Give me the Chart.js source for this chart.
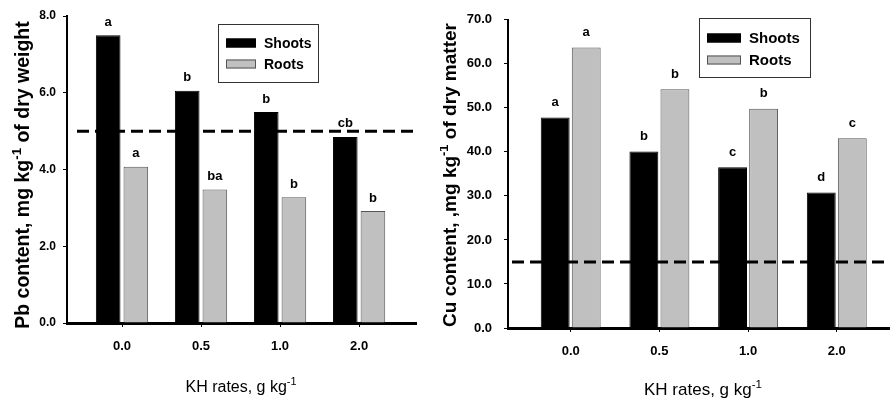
<!DOCTYPE html>
<html lang="en">

<head>
  <title>Pb and Cu content vs KH rates</title>
  <script src="https://cdn.jsdelivr.net/npm/chart.js"></script>
  <style>
    body { margin: 0; background: #fff; }
    canvas { position: absolute; top: 0; }
  </style>
</head>

<body>
  <canvas id="pbChart" width="440" height="400" style="left:0"></canvas>
  <canvas id="cuChart" width="450" height="400" style="left:440px"></canvas>
  <script>
    // values
    const rates = ['0.0', '0.5', '1.0', '2.0'];
    const seriesNames = ['Shoots', 'Roots'];

    const pbShoots = [7.5, 6.05, 5.5, 4.85];
    const pbRoots = [4.07, 3.48, 3.28, 2.92];
    const pbShootsLetters = ['a', 'b', 'b', 'cb'];
    const pbRootsLetters = ['a', 'ba', 'b', 'b'];
    const pbLimit = 5.0;
    const pbTicks = [0, 2, 4, 6, 8];

    const cuShoots = [47.8, 40.1, 36.5, 30.8];
    const cuRoots = [63.7, 54.2, 49.8, 43.1];
    const cuShootsLetters = ['a', 'b', 'c', 'd'];
    const cuRootsLetters = ['a', 'b', 'b', 'c'];
    const cuLimit = 15.0;
    const cuTicks = [0, 10, 20, 30, 40, 50, 60, 70];

    Chart.defaults.font.family = "'Liberation Sans', Arial, sans-serif";
    Chart.defaults.color = '#000';

    // text with a "-1" superscript, optionally rotated
    function drawRich(ctx, parts, x, y, size, weight, rot) {
      ctx.save();
      ctx.translate(x, y);
      ctx.rotate(rot || 0);
      ctx.textBaseline = 'alphabetic';
      ctx.textAlign = 'left';
      const fonts = parts.map(p => weight + ' ' + (p.sup ? size * 0.68 : size) + 'px ' + Chart.defaults.font.family);
      let total = 0;
      const widths = parts.map((p, i) => { ctx.font = fonts[i]; const w = ctx.measureText(p.t).width; total += w; return w; });
      let cx = -total / 2;
      parts.forEach((p, i) => {
        ctx.font = fonts[i];
        ctx.fillStyle = '#000';
        ctx.fillText(p.t, cx, p.sup ? -size * 0.42 : 0);
        cx += widths[i];
      });
      ctx.restore();
    }

    const titlesPlugin = {
      id: 'titles',
      afterDraw(chart, args, o) {
        const ctx = chart.ctx;
        drawRich(ctx, o.y.parts, o.y.x, o.y.y, o.y.size, 'bold', -Math.PI / 2);
        drawRich(ctx, o.x.parts, o.x.x, o.x.y, o.x.size, 'normal', 0);
      }
    };

    const limitPlugin = {
      id: 'limit',
      afterDatasetsDraw(chart, args, o) {
        const { ctx, chartArea } = chart;
        const y = chart.scales.y.getPixelForValue(o.value);
        ctx.save();
        ctx.strokeStyle = '#000';
        ctx.lineWidth = 3;
        ctx.setLineDash([12, 6]);
        ctx.beginPath();
        ctx.moveTo(chartArea.left + o.startGap, y);
        ctx.lineTo(chartArea.right - o.endGap, y);
        ctx.stroke();
        ctx.restore();
      }
    };

    const lettersPlugin = {
      id: 'letters',
      afterDatasetsDraw(chart, args, o) {
        const ctx = chart.ctx;
        ctx.save();
        ctx.font = 'bold ' + o.size + 'px ' + Chart.defaults.font.family;
        ctx.textAlign = 'center';
        ctx.textBaseline = 'middle';
        ctx.fillStyle = '#000';
        o.letters.forEach((arr, i) => {
          chart.getDatasetMeta(i).data.forEach((bar, j) => {
            ctx.fillText(arr[j], bar.x, bar.y - o.offset);
          });
        });
        ctx.restore();
      }
    };

    const boxLegend = {
      id: 'boxLegend',
      afterDraw(chart, args, o) {
        const ctx = chart.ctx;
        ctx.save();
        ctx.fillStyle = '#fff';
        ctx.fillRect(o.x, o.y, o.w, o.h);
        ctx.strokeStyle = '#333';
        ctx.lineWidth = 1;
        ctx.strokeRect(o.x + 0.5, o.y + 0.5, o.w, o.h);
        ctx.font = 'bold ' + o.size + 'px ' + Chart.defaults.font.family;
        ctx.textBaseline = 'middle';
        chart.data.datasets.forEach((ds, i) => {
          const cy = o.y + o.row0 + i * o.rowGap;
          ctx.fillStyle = ds.backgroundColor;
          ctx.fillRect(o.x + 8, cy - 4.5, o.sw, 9);
          ctx.strokeStyle = ds.borderColor;
          ctx.strokeRect(o.x + 8.5, cy - 4, o.sw - 1, 8);
          ctx.fillStyle = '#000';
          ctx.fillText(ds.label, o.x + o.sw + 16, cy + 1);
        });
        ctx.restore();
      }
    };

    function makeChart(id, shoots, roots, letters, yTicks, limit, geo) {
      return new Chart(document.getElementById(id), {
        type: 'bar',
        data: {
          datasets: [{
            label: seriesNames[0],
            data: shoots.map((v, i) => ({ x: i, y: v })),
            backgroundColor: '#000',
            borderColor: '#000',
            borderWidth: 1
          }, {
            label: seriesNames[1],
            data: roots.map((v, i) => ({ x: i, y: v })),
            backgroundColor: '#c0c0c0',
            borderColor: '#555',
            borderWidth: 1
          }]
        },
        plugins: [limitPlugin, lettersPlugin, boxLegend, titlesPlugin],
        options: {
          responsive: false,
          animation: false,
          devicePixelRatio: 1,
          categoryPercentage: 0.7,
          barPercentage: geo.barPct,
          layout: { padding: { left: 0, right: geo.padRight, top: geo.top, bottom: 0 } },
          scales: {
            x: {
              type: 'linear',
              offset: false,
              min: geo.xMin,
              max: geo.xMax,
              afterBuildTicks: s => { s.ticks = rates.map((r, i) => ({ value: i })); },
              afterFit: s => { s.height = 400 - geo.bottom; },
              ticks: {
                callback: v => rates[v],
                font: { size: 13, weight: 'bold' },
                padding: geo.xTickPad,
                maxRotation: 0
              },
              grid: { offset: false, drawOnChartArea: false, color: '#000', tickLength: 4 },
              border: { color: '#000', width: 3 }
            },
            y: {
              min: yTicks[0],
              max: yTicks[yTicks.length - 1],
              afterBuildTicks: s => { s.ticks = yTicks.map(v => ({ value: v })); },
              afterFit: s => { s.width = geo.left; },
              ticks: {
                callback: v => v.toFixed(1),
                font: { size: geo.yTickSize, weight: 'bold' },
                padding: geo.yTickPad
              },
              grid: { drawOnChartArea: false, color: '#000', tickLength: 4 },
              border: { color: '#000', width: 2 }
            }
          },
          plugins: {
            legend: { display: false },
            tooltip: { enabled: false },
            limit: { value: limit, startGap: geo.dashStart, endGap: geo.dashEnd },
            letters: { letters: letters, size: 13, offset: geo.letterOff },
            boxLegend: geo.legend,
            titles: geo.titles
          }
        }
      });
    }

    makeChart('pbChart', pbShoots, pbRoots, [pbShootsLetters, pbRootsLetters], pbTicks, pbLimit, {
      left: 67, padRight: 24, top: 16, bottom: 323,
      xMin: -0.696, xMax: 3.72, barPct: 0.89,
      xTickPad: 12, yTickSize: 12, yTickPad: 7,
      dashStart: 10, dashEnd: 3, letterOff: 13,
      legend: { x: 218, y: 24, w: 100, h: 58, size: 14, sw: 30, row0: 19, rowGap: 21 },
      titles: {
        y: { parts: [{ t: 'Pb content, mg kg' }, { t: '-1', sup: true }, { t: ' of dry weight' }], x: 29, y: 175, size: 19.5 },
        x: { parts: [{ t: 'KH rates, g kg' }, { t: '-1', sup: true }], x: 241, y: 392, size: 16 }
      }
    });

    makeChart('cuChart', cuShoots, cuRoots, [cuShootsLetters, cuRootsLetters], cuTicks, cuLimit, {
      left: 68, padRight: 0, top: 19, bottom: 328,
      xMin: -0.707, xMax: 3.6, barPct: 0.93,
      xTickPad: 12, yTickSize: 13, yTickPad: 12,
      dashStart: 4, dashEnd: 0, letterOff: 15,
      legend: { x: 259, y: 18, w: 111, h: 59, size: 15, sw: 34, row0: 20, rowGap: 22 },
      titles: {
        y: { parts: [{ t: 'Cu content, ,mg kg' }, { t: '-1', sup: true }, { t: ' of dry matter' }], x: 16, y: 175, size: 19 },
        x: { parts: [{ t: 'KH rates, g kg' }, { t: '-1', sup: true }], x: 263, y: 395, size: 17 }
      }
    });
  </script>
</body>

</html>
